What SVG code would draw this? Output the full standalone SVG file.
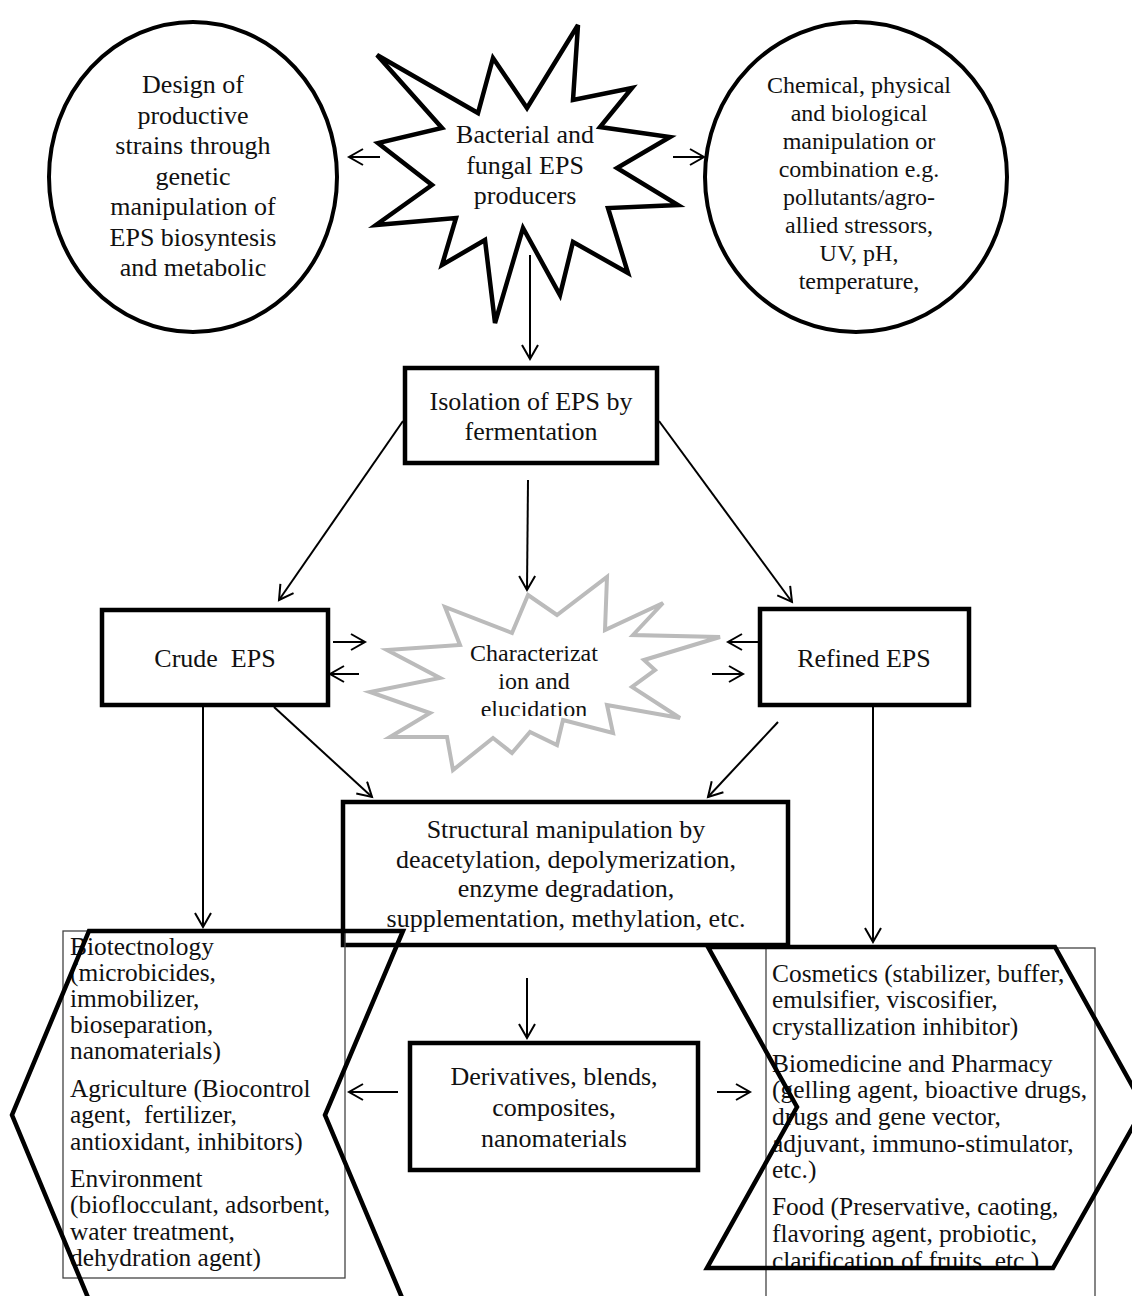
<svg xmlns="http://www.w3.org/2000/svg" width="1132" height="1296" viewBox="0 0 1132 1296">
<style>
text{font-family:"Liberation Serif","Times New Roman",serif;fill:#111}
.c{text-anchor:middle}
.t26{font-size:26px}
.t24{font-size:24px}
.t25{font-size:25.4px}
.box{fill:#fff;stroke:#000;stroke-width:4.5}
.ell{fill:#fff;stroke:#000;stroke-width:4}
.thin{fill:none;stroke:#444;stroke-width:1.3}
.hex{fill:none;stroke:#000;stroke-width:4.5;stroke-linejoin:miter}
.conn{stroke:#000;stroke-width:2;fill:none}
</style>
<defs>
<marker id="ah" markerUnits="userSpaceOnUse" markerWidth="18" markerHeight="20" refX="15" refY="9" orient="auto">
<path d="M1,1 L15,9 L1,17" fill="none" stroke="#000" stroke-width="2"/>
</marker>
<clipPath id="clipStar"><rect x="0" y="0" width="1132" height="716"/></clipPath>
<clipPath id="clipFood"><rect x="0" y="0" width="1132" height="1266"/></clipPath>
</defs>

<g id="node-design">
<ellipse class="ell" cx="193" cy="177" rx="144" ry="155"/>
<text class="c t26"><tspan x="193" y="93">Design of</tspan><tspan x="193" y="123.5">productive</tspan><tspan x="193" y="154">strains through</tspan><tspan x="193" y="184.5">genetic</tspan><tspan x="193" y="215">manipulation of</tspan><tspan x="193" y="245.5">EPS biosyntesis</tspan><tspan x="193" y="276">and metabolic</tspan></text>
</g>

<g id="node-chemical">
<ellipse class="ell" cx="856" cy="177" rx="151" ry="155"/>
<text class="c t24"><tspan x="859" y="93">Chemical, physical</tspan><tspan x="859" y="121">and biological</tspan><tspan x="859" y="149">manipulation or</tspan><tspan x="859" y="177">combination  e.g.</tspan><tspan x="859" y="205">pollutants/agro-</tspan><tspan x="859" y="233">allied stressors,</tspan><tspan x="859" y="261">UV, pH,</tspan><tspan x="859" y="289">temperature,</tspan></text>
</g>

<g id="node-producers">
<polygon fill="#fff" stroke="#000" stroke-width="4.5" stroke-linejoin="miter" points="377,55 478,113 493,58 527,108 578,25 573,100 632,88 600,127 670,137 617,168 678,205 608,208 628,273 573,242 560,295 523,228 495,323 485,240 442,265 456,218 376,225 432,185 378,143 442,128"/>
<text class="c t26"><tspan x="525" y="143">Bacterial and</tspan><tspan x="525" y="174">fungal EPS</tspan><tspan x="525" y="204">producers</tspan></text>
</g>

<g id="node-isolation">
<rect class="box" x="405" y="368" width="252" height="95"/>
<text class="c t26"><tspan x="531" y="410">Isolation of EPS by</tspan><tspan x="531" y="440">fermentation</tspan></text>
</g>

<g id="node-crude">
<rect class="box" x="102" y="610" width="226" height="95"/>
<text class="c t26" x="215" y="667" xml:space="preserve">Crude  EPS</text>
</g>

<g id="node-refined">
<rect class="box" x="760" y="609" width="209" height="96"/>
<text class="c t26" x="864" y="667">Refined EPS</text>
</g>

<g id="node-characterization">
<polygon fill="#fff" stroke="#bbb" stroke-width="4" stroke-linejoin="miter" points="528,595 557,615 607,577 605,630 663,603 633,635 720,637 644,660 655,670 632,687 680,718 607,705 613,733 563,720 557,745 530,732 512,753 493,738 453,770 447,737 390,737 430,713 370,692 440,678 387,650 460,645 445,607 512,633"/>
<g clip-path="url(#clipStar)">
<text class="c t24"><tspan x="534" y="661">Characterizat</tspan><tspan x="534" y="689">ion and</tspan><tspan x="534" y="717">elucidation</tspan></text>
</g>
</g>

<g id="node-structural">
<rect class="box" x="343" y="802" width="445" height="143"/>
<text class="c t26"><tspan x="566" y="838">Structural manipulation by</tspan><tspan x="566" y="868">deacetylation, depolymerization,</tspan><tspan x="566" y="897">enzyme degradation,</tspan><tspan x="566" y="927">supplementation, methylation, etc.</tspan></text>
</g>

<g id="node-derivatives">
<rect class="box" x="410" y="1043" width="288" height="127"/>
<text class="c t26"><tspan x="554" y="1085">Derivatives, blends,</tspan><tspan x="554" y="1116">composites,</tspan><tspan x="554" y="1147">nanomaterials</tspan></text>
</g>

<g id="node-applications-left">
<rect class="thin" x="63" y="931" width="282" height="347"/>
<text class="t25" xml:space="preserve"><tspan x="70" y="955">Biotectnology</tspan><tspan x="70" y="981">(microbicides,</tspan><tspan x="70" y="1007">immobilizer,</tspan><tspan x="70" y="1033">bioseparation,</tspan><tspan x="70" y="1059">nanomaterials)</tspan><tspan x="70" y="1097">Agriculture (Biocontrol</tspan><tspan x="70" y="1123">agent,  fertilizer,</tspan><tspan x="70" y="1150">antioxidant, inhibitors)</tspan><tspan x="70" y="1187">Environment</tspan><tspan x="70" y="1213">(bioflocculant, adsorbent,</tspan><tspan x="70" y="1240">water treatment,</tspan><tspan x="70" y="1266">dehydration agent)</tspan></text>
<polygon class="hex" points="89,931 403,931 325,1115 403,1300 89,1300 12,1115"/>
</g>

<g id="node-applications-right">
<rect class="thin" x="766" y="948" width="329" height="360"/>
<text class="t25"><tspan x="772" y="982">Cosmetics (stabilizer, buffer,</tspan><tspan x="772" y="1008">emulsifier, viscosifier,</tspan><tspan x="772" y="1035">crystallization inhibitor)</tspan><tspan x="772" y="1072">Biomedicine and Pharmacy</tspan><tspan x="772" y="1098">(gelling agent, bioactive drugs,</tspan><tspan x="772" y="1125">drugs and gene vector,</tspan><tspan x="772" y="1152">adjuvant, immuno-stimulator,</tspan><tspan x="772" y="1178">etc.)</tspan><tspan x="772" y="1215">Food (Preservative, caoting,</tspan><tspan x="772" y="1242">flavoring agent, probiotic,</tspan></text>
<g clip-path="url(#clipFood)"><text class="t25" x="772" y="1269">clarification of fruits, etc.)</text></g>
<polygon class="hex" points="708,947 1055,947 1144,1107 1053,1268 707,1268 797,1107"/>
</g>

<g id="connectors">
<line class="conn" x1="380" y1="157" x2="349" y2="157" marker-end="url(#ah)"/>
<line class="conn" x1="673" y1="157" x2="704" y2="157" marker-end="url(#ah)"/>
<line class="conn" x1="530" y1="255" x2="530" y2="359" marker-end="url(#ah)"/>
<line class="conn" x1="403" y1="421" x2="279" y2="600" marker-end="url(#ah)"/>
<line class="conn" x1="659" y1="421" x2="792" y2="602" marker-end="url(#ah)"/>
<line class="conn" x1="528" y1="480" x2="527" y2="590" marker-end="url(#ah)"/>
<line class="conn" x1="333" y1="642" x2="365" y2="642" marker-end="url(#ah)"/>
<line class="conn" x1="359" y1="674" x2="330" y2="674" marker-end="url(#ah)"/>
<line class="conn" x1="760" y1="642" x2="728" y2="642" marker-end="url(#ah)"/>
<line class="conn" x1="712" y1="674" x2="743" y2="674" marker-end="url(#ah)"/>
<line class="conn" x1="203" y1="706" x2="203" y2="927" marker-end="url(#ah)"/>
<line class="conn" x1="274" y1="707" x2="372" y2="797" marker-end="url(#ah)"/>
<line class="conn" x1="778" y1="722" x2="708" y2="797" marker-end="url(#ah)"/>
<line class="conn" x1="873" y1="706" x2="873" y2="942" marker-end="url(#ah)"/>
<line class="conn" x1="527" y1="978" x2="527" y2="1038" marker-end="url(#ah)"/>
<line class="conn" x1="398" y1="1092" x2="349" y2="1092" marker-end="url(#ah)"/>
<line class="conn" x1="717" y1="1092" x2="750" y2="1092" marker-end="url(#ah)"/>
</g>
</svg>
